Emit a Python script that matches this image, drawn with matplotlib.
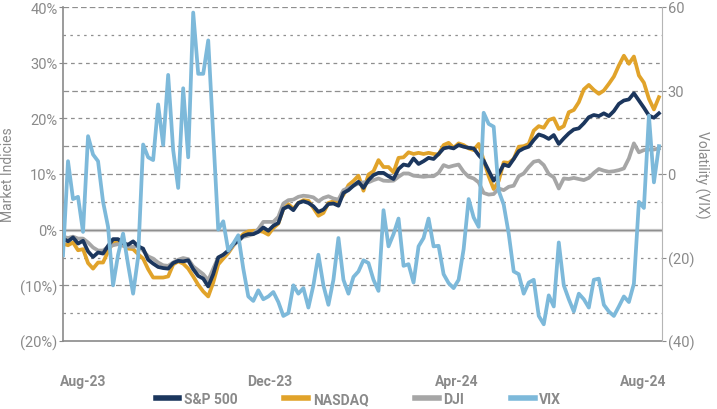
import pandas as pd
import matplotlib.pyplot as plt
import matplotlib.dates as mdates

plt.rcParams['font.family'] = ['Roboto', 'DejaVu Sans']

# trading dates, roughly one point every ~3 days from mid Jul-23 to mid Aug-24
dates = pd.date_range('2023-07-19', '2024-08-11', periods=120)

# cumulative return, %
sp500 = [-1.6, -2.1, -1.4, -2.5, -2.0, -3.9, -4.9, -4.1, -4.3, -2.9,
         -1.7, -1.7, -2.4, -2.7, -2.1, -3.0, -3.4, -5.4, -6.1, -6.7,
         -6.9, -7.0, -6.0, -5.6, -5.7, -5.5, -7.1, -8.3, -8.8, -10.2,
         -8.0, -5.0, -4.5, -3.75, -2.6, -2.0, -1.1, -0.8, -0.8, -0.4,
         0.4, -0.2, 0.7, 1.2, 3.75, 4.2, 3.5, 4.8, 5.1, 4.8,
         4.2, 3.2, 3.6, 4.6, 4.7, 4.3, 6.6, 7.1, 7.9, 8.6,
         7.5, 8.9, 9.8, 10.2, 10.2, 9.6, 9.1, 10.9, 11.7, 11.5,
         12.8, 11.8, 12.3, 12.9, 12.7, 13.6, 14.6, 14.8, 14.6, 15.2,
         14.9, 14.7, 14.6, 13.4, 12.4, 10.6, 8.8, 10.0, 11.7, 11.4,
         12.7, 14.1, 14.6, 14.9, 16.1, 17.1, 16.8, 16.3, 17.0, 15.4,
         16.4, 17.3, 18.0, 18.2, 19.1, 20.2, 20.6, 20.4, 20.9, 20.4,
         21.3, 22.6, 23.2, 23.4, 24.5, 23.2, 21.9, 20.5, 20.1, 20.9]

nasdaq = [-2.5, -2.8, -2.3, -3.7, -3.5, -6.0, -7.0, -5.9, -5.9, -3.9,
          -2.3, -2.1, -2.8, -3.4, -3.5, -4.4, -5.2, -7.1, -8.6, -8.6,
          -8.6, -8.4, -6.25, -5.7, -6.1, -7.0, -8.4, -9.9, -11.1, -12.0,
          -9.5, -6.25, -5.2, -4.2, -2.9, -1.8, -0.8, -0.3, -0.2, -0.2,
          -0.4, -0.9, 0.3, 1.1, 3.75, 4.6, 3.75, 4.8, 5.3, 5.2,
          3.9, 2.5, 3.0, 4.8, 5.1, 5.1, 6.25, 8.0, 8.75, 9.7,
          7.0, 9.9, 10.5, 12.5, 11.25, 11.25, 10.3, 12.9, 13.0, 13.9,
          13.6, 13.8, 13.6, 13.8, 13.6, 13.5, 15.2, 15.6, 14.7, 15.5,
          15.2, 14.6, 14.3, 15.4, 12.5, 9.6, 7.3, 8.75, 12.1, 12.0,
          12.7, 14.9, 15.0, 15.4, 17.8, 18.6, 18.3, 19.7, 20.0, 18.1,
          18.6, 21.1, 21.5, 22.9, 25.2, 26.0, 25.1, 24.4, 25.0, 26.2,
          27.5, 29.5, 31.25, 29.8, 31.1, 27.7, 26.4, 23.5, 21.6, 23.8]

dji = [-1.25, -1.5, -1.25, -1.6, -1.6, -2.3, -3.2, -3.75, -3.75, -3.1,
       -2.8, -2.6, -2.9, -3.0, -3.1, -2.9, -3.75, -4.8, -5.2, -5.9,
       -6.4, -6.5, -5.9, -5.4, -5.1, -5.3, -6.6, -7.3, -8.0, -9.1,
       -7.0, -5.0, -4.6, -3.9, -2.8, -2.0, -1.3, -1.1, -0.8, 0.1,
       1.4, 1.4, 1.4, 2.3, 4.7, 5.3, 5.4, 5.9, 6.1, 6.0,
       5.8, 5.1, 5.7, 6.0, 5.6, 5.4, 7.1, 7.5, 7.9, 8.3,
       8.5, 8.5, 8.9, 9.2, 8.8, 8.75, 8.8, 9.5, 10.1, 10.1,
       9.7, 9.6, 9.5, 9.6, 9.6, 10.2, 11.6, 11.25, 11.5, 11.7,
       10.4, 9.5, 9.2, 8.5, 6.6, 6.3, 6.4, 7.4, 7.1, 7.7,
       7.9, 9.6, 10.1, 11.25, 12.2, 12.4, 11.6, 10.0, 9.4, 7.4,
       9.2, 9.1, 9.3, 9.1, 8.9, 9.3, 10.2, 10.9, 10.6, 10.4,
       10.5, 10.7, 11.0, 12.8, 15.5, 13.9, 14.3, 14.4, 14.4, 14.6]

# VIX, as placed against the left scale (right axis labels are custom)
vix = [-4.6, 12.3, 5.5, 5.9, -0.4, 16.8, 13.5, 12.3, 5.0, 0.5,
       -10.0, -4.5, -0.7, -6.3, -11.5, -4.9, 15.3, 13.0, 12.5, 22.5,
       15.2, 27.8, 14.3, 7.5, 25.4, 13.0, 39.0, 28.0, 28.0, 34.0,
       17.0, 0.0, 1.5, -3.75, -2.5, -1.0, -7.0, -12.0, -12.8, -10.9,
       -12.5, -12.0, -11.2, -13.0, -15.5, -15.0, -10.0, -11.5, -10.5, -14.0,
       -10.0, -4.5, -10.0, -13.5, -9.0, -1.5, -9.0, -11.5, -8.5, -7.5,
       -5.5, -6.0, -9.0, -11.0, 3.5, -3.0, -0.8, 2.0, -6.5, -6.2,
       -9.5, -3.0, -1.5, 2.0, -3.0, -2.9, -8.0, -9.6, -10.5, -9.0,
       -3.5, 5.5, 2.2, 0.5, 21.0, 19.0, 18.5, 7.0, 4.5, -0.7,
       -7.5, -8.0, -11.5, -9.5, -9.0, -15.5, -17.0, -11.8, -13.8, -2.3,
       -10.0, -12.5, -14.7, -11.5, -12.5, -14.0, -9.0, -8.8, -13.5, -14.7,
       -15.5, -13.8, -12.0, -13.0, -9.7, 5.0, 3.9, 20.5, 8.5, 15.0]

left_ticks = [40, 30, 20, 10, 0, -10, -20]
left_labels = ['40%', '30%', '20%', '10%', '0%', '(10%)', '(20%)']
right_ticks = [40, 25, 10, -5, -20]
right_labels = ['60', '30', '0', '(20)', '(40)']
xtick_dates = ['2023-08-01', '2023-12-01', '2024-04-01', '2024-08-01']
xtick_labels = ['Aug-23', 'Dec-23', 'Apr-24', 'Aug-24']

c_sp = '#1b365d'
c_nq = '#e1a32a'
c_dj = '#a6a6a6'
c_vix = '#7db9da'
txt = '#8a8a8a'

fig = plt.figure(figsize=(7.17, 4.10), dpi=100)
ax = fig.add_axes([63/717, 1 - 342/410, (662 - 63)/717, (342 - 8)/410])

# gridlines
long_d = (0, (4.5, 2.5))
short_d = (0, (2, 3.5))
med_d = (0, (3, 3))
grid = {40: long_d, 35: short_d, 30: med_d, 25: long_d, 20: med_d, 15: long_d,
        10: long_d, 5: short_d, -5: short_d, -10: long_d, -15: short_d}
for lvl, ls in grid.items():
    ax.axhline(lvl, color='#8f8f8f', lw=0.9, ls=ls, zorder=0)
ax.axhline(0, color='#d0d0d0', lw=2.4, zorder=0)
ax.axhline(0, color='#8f8f8f', lw=1.0, zorder=0)

ax.plot(dates, sp500, color=c_sp, lw=2.7, label='S&P 500', zorder=3)
ax.plot(dates, nasdaq, color=c_nq, lw=2.7, label='NASDAQ', zorder=2)
ax.plot(dates, dji, color=c_dj, lw=2.7, label='DJI', zorder=2.5)

ax.set_ylim(-20, 40)
ax.set_xlim(pd.Timestamp('2023-07-19'), pd.Timestamp('2024-08-13'))
ax.set_yticks(left_ticks)
ax.set_yticklabels(left_labels)
ax.set_xticks(pd.to_datetime(xtick_dates))
ax.set_xticklabels(xtick_labels, fontweight='bold')
ax.tick_params(axis='y', colors=txt, labelsize=10.5, length=3, pad=1, width=0.8)
ax.tick_params(axis='x', colors=txt, labelsize=10, length=0, pad=24)
ax.set_ylabel('Market Indicies', color=txt, fontsize=10, labelpad=4)

for s in ['top', 'right']:
    ax.spines[s].set_visible(False)
for s in ['left', 'bottom']:
    ax.spines[s].set_color('#8a8a8a')
    ax.spines[s].set_linewidth(1.2)

ax2 = ax.twinx()
ax2.plot(dates, vix, color=c_vix, lw=2.7, label='VIX', zorder=4)
ax2.set_ylim(-20, 40)
ax2.set_yticks(right_ticks)
ax2.set_yticklabels(right_labels)
ax2.tick_params(axis='y', colors=txt, labelsize=10.5, length=3, pad=1, width=0.8)
ax2.set_ylabel('Volatility (VIX)', color=txt, fontsize=10, rotation=270, labelpad=11)
for s in ['top', 'left', 'bottom']:
    ax2.spines[s].set_visible(False)
ax2.spines['right'].set_color('#b5b5b5')

handles = ax.get_lines()[-3:] + ax2.get_lines()
leg = fig.legend(handles, [h.get_label() for h in handles], loc='center',
                 bbox_to_anchor=(0.5, 1 - 400/410), ncol=4, frameon=False,
                 handlelength=1.7, handletextpad=0.35, columnspacing=3.35,
                 prop={'weight': 'bold', 'size': 10})
for t in leg.get_texts():
    t.set_color(txt)
for h in leg.legend_handles:
    h.set_linewidth(4)

fig.savefig('out.png', dpi=100)
